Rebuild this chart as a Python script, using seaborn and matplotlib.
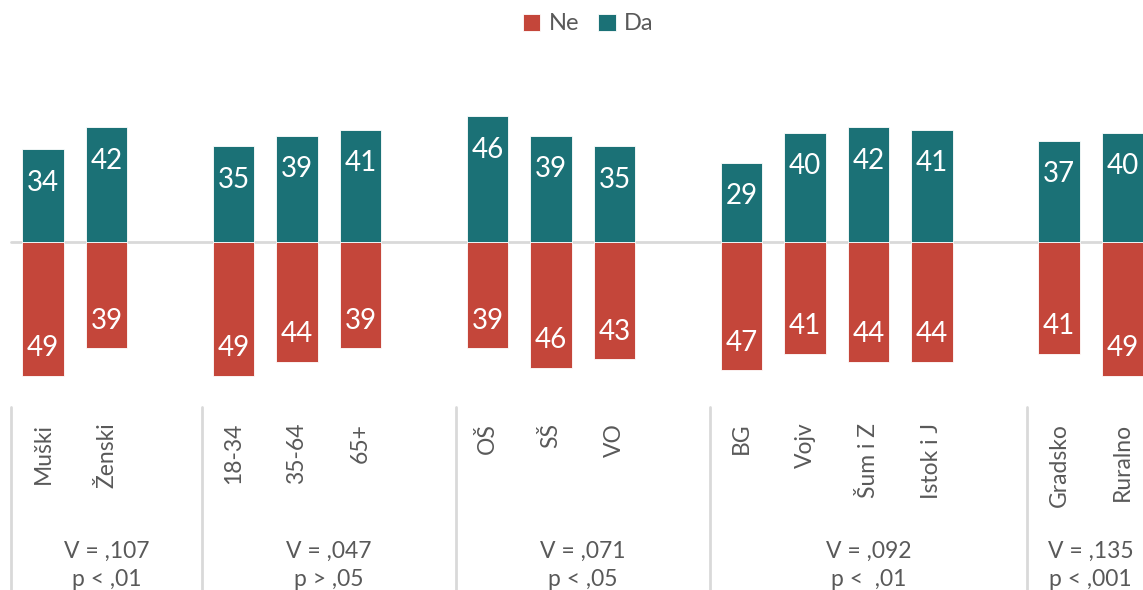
import numpy as np
import pandas as pd
import matplotlib
matplotlib.use("Agg")
import matplotlib.pyplot as plt
import matplotlib.transforms as mtransforms
import seaborn as sns

# ======================================
# Data
# ======================================

categories = [
    "Muški", "Ženski",
    "18-34", "35-64", "65+",
    "OŠ", "SŠ", "VO",
    "BG", "Vojv", "Šum i Z", "Istok i J",
    "Gradsko", "Ruralno",
]
da_values = [34, 42, 35, 39, 41, 46, 39, 35, 29, 40, 42, 41, 37, 40]
ne_values = [49, 39, 49, 44, 39, 39, 46, 43, 47, 41, 44, 44, 41, 49]
group_sizes = [2, 3, 3, 4, 2]
group_stats = [
    "V = ,107\np < ,01",
    "V = ,047\np > ,05",
    "V = ,071\np < ,05",
    "V = ,092\np <  ,01",
    "V = ,135\np < ,001",
]

RED = "#c4463a"
TEAL = "#1b7176"
GREY_TEXT = "#595959"
GREY_LINE = "#d9d9d9"

# ======================================
# Positions (one empty slot between groups)
# ======================================

positions = []
group_edges = []
slot = 0
for size in group_sizes:
    group_edges.append(slot - 0.5)
    positions.extend(range(slot, slot + size))
    slot += size + 1

df = pd.DataFrame({
    "pos": positions * 2,
    "value": da_values + [-v for v in ne_values],
    "label": da_values + ne_values,
    "odgovor": ["Da"] * len(da_values) + ["Ne"] * len(ne_values),
})

# ======================================
# Plot
# ======================================

sns.set_theme(style="white")
plt.rcParams["font.family"] = ["Lato", "DejaVu Sans"]

fig = plt.figure(figsize=(11.43, 5.9), dpi=100)
ax = fig.add_axes([0, 200 / 590, 1, 290 / 590])

sns.barplot(
    data=df,
    x="pos",
    y="value",
    hue="odgovor",
    hue_order=["Ne", "Da"],
    palette={"Ne": RED, "Da": TEAL},
    saturation=1,
    native_scale=True,
    dodge=False,
    width=0.66,
    edgecolor="white",
    linewidth=0.6,
    ax=ax,
)

x_left = -43 / 63.5
x_right = (1143 - 43) / 63.5
ax.set_xlim(x_left, x_right)
ax.set_ylim(-(390 - 242) / 2.73, (242 - 100) / 2.73)

ax.axhline(0, xmin=(-0.5 - x_left) / (x_right - x_left), xmax=1,
           color=GREY_LINE, linewidth=2, zorder=0)

# value labels inside bar ends
for _, row in df.iterrows():
    offset = -24 if row["value"] > 0 else 20
    ax.annotate(
        str(row["label"]),
        xy=(row["pos"], row["value"]),
        xytext=(0, offset),
        textcoords="offset points",
        ha="center",
        va="center",
        color="white",
        fontsize=20,
    )

trans = mtransforms.blended_transform_factory(ax.transData, ax.transAxes)

# category labels
for pos, name in zip(positions, categories):
    ax.text(pos, -0.113, name, rotation=90, ha="center", va="top",
            transform=trans, fontsize=16.5, color=GREY_TEXT, clip_on=False)

# group separators and statistics
ends = group_edges[1:] + [positions[-1] + 0.5]
for start, end, stat in zip(group_edges, ends, group_stats):
    ax.plot([start, start], [-0.058, -0.7], transform=trans,
            color=GREY_LINE, linewidth=2, clip_on=False)
    ax.text((start + end) / 2, -0.69, stat, ha="center", va="bottom",
            transform=trans, fontsize=16.5, color=GREY_TEXT,
            linespacing=1.45, clip_on=False)

ax.set_xlabel("")
ax.set_ylabel("")
ax.set_xticks([])
ax.set_yticks([])
sns.despine(ax=ax, left=True, bottom=True)

sns.move_legend(
    ax,
    "center",
    bbox_to_anchor=(588 / 1143, 1 - 24 / 590),
    bbox_transform=fig.transFigure,
    ncol=2,
    title=None,
    frameon=False,
    fontsize=17,
    handlelength=0.75,
    handleheight=0.75,
    handletextpad=0.35,
    columnspacing=0.8,
)
for text in ax.get_legend().get_texts():
    text.set_color(GREY_TEXT)

fig.savefig("out.png", dpi=100)
plt.close(fig)
